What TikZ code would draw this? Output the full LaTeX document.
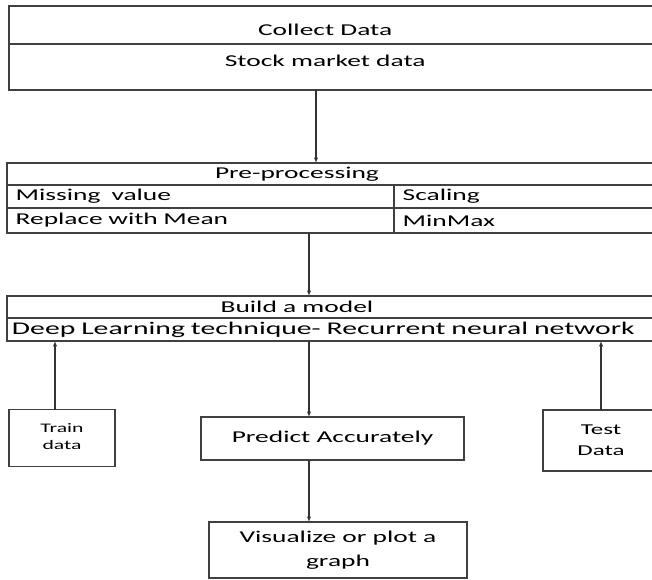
\documentclass[tikz,border=0pt]{standalone}
\usepackage{fontspec}
\setmainfont{Carlito}[FakeStretch=1.66]
\usetikzlibrary{positioning,arrows.meta}

\begin{document}
\begin{tikzpicture}[x=0.75pt,y=-0.75pt,
  every node/.style={font=\fontsize{12.4}{15}\selectfont, text=black},
  cell/.style={draw=black!75, line width=0.9pt, anchor=north west, inner sep=0pt, outer sep=0pt},
  lcell/.style={cell, text width=#1, align=left, inner xsep=6.5pt},
  box/.style={draw=black!75, line width=0.9pt, align=center, inner sep=0pt, outer sep=0pt},
  flow/.style={-{Latex[length=4pt,width=3.2pt]}, line width=0.9pt, black!80},
]
\useasboundingbox (0,0) rectangle (652,580);
\clip (0,0) rectangle (652,580);

% collect
\node[cell, minimum width=488.25pt, minimum height=28.5pt,
      label={[xshift=-7pt,yshift=-3.5pt]center:Collect Data}] (collect) at (9,6) {};
\node[cell, minimum width=488.25pt, minimum height=34.5pt,
      label={[xshift=-7pt,yshift=4.5pt]center:Stock market data}] (stock) at (collect.south west) {};

% pre-processing
\node[cell, minimum width=489.75pt, minimum height=16.5pt,
      label={[xshift=-27.4pt]center:Pre-processing}] (pre) at (7,163) {};
\node[lcell=277.25pt, minimum height=17.25pt] (missing) at (pre.south west) {Missing~ value};
\node[lcell=186.5pt, minimum height=17.25pt] (scaling) at (missing.north east) {Scaling};
\node[lcell=277.25pt, minimum height=18.75pt] (replace) at (missing.south west) {Replace with Mean};
\node[lcell=186.5pt, minimum height=18.75pt] (minmax) at (replace.north east) {MinMax};

% model
\node[cell, minimum width=489.75pt, minimum height=16.5pt,
      label={[xshift=-27.4pt]center:Build a model}] (build) at (7,296) {};
\node[lcell=482.25pt, inner xsep=3.75pt, minimum height=17.25pt,
      font=\fontsize{13.4}{15}\selectfont] (deep) at (build.south west)
      {Deep Learning technique- Recurrent neural network};

% lower boxes
\node[box, minimum width=79.5pt, minimum height=42.75pt,
      font=\fontsize{9.8}{12.75}\selectfont] (train) at (62,438) {Train\\data\vphantom{g}};
\node[box, minimum width=197.25pt, minimum height=32.25pt] (predict) at (332.5,438.5) {Predict Accurately};
\node[box, minimum width=87pt, minimum height=45.75pt,
      font=\fontsize{11.3}{15.75}\selectfont] (test) at (601,440.5) {Test\\Data};
\node[box, minimum width=193.5pt, minimum height=42pt,
      font=\fontsize{12.4}{18}\selectfont] (visual) at (338,550) {Visualize or plot a\\graph};

\coordinate (upper spine) at (316,0);
\coordinate (spine) at (309,0);

\draw[flow] (upper spine |- stock.south) -- (upper spine |- pre.north);
\draw[flow] (spine |- replace.south) -- (spine |- build.north);
\draw[flow] (spine |- deep.south) -- (spine |- predict.north);
\draw[flow] ([xshift=-5.25pt]train.north) -- ([xshift=-5.25pt]train.north |- deep.south);
\draw[flow] (test.north) -- (test.north |- deep.south);
\draw[flow] (spine |- predict.south) -- (spine |- visual.north);
\end{tikzpicture}
\end{document}
